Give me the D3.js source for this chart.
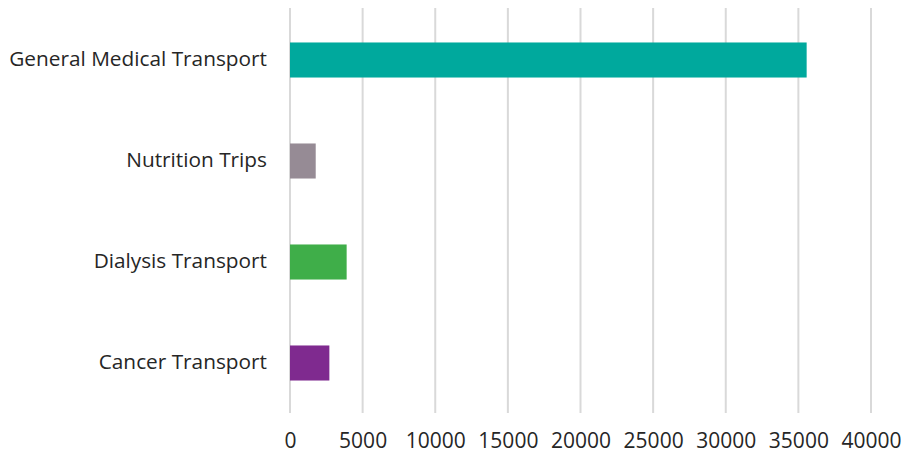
<html>
<head>
  <meta charset="utf-8">
  <script src="https://cdn.jsdelivr.net/npm/d3@7"></script>
  <style>
    body { margin: 0; background: #fff; }
    text { font-family: "Open Sans", sans-serif; fill: #262626; }
  </style>
</head>
<body>
<script>
  // data
  const categories = ["General Medical Transport", "Nutrition Trips", "Dialysis Transport", "Cancer Transport"];
  const values = [35570, 1770, 3900, 2710];
  const colors = ["#00a99d", "#968b95", "#3fae49", "#7f2a8f"];
  const ticks = [0, 5000, 10000, 15000, 20000, 25000, 30000, 35000, 40000];

  const w = 901, h = 455;
  const plotLeft = 290, plotRight = 871, plotTop = 9.5, plotBottom = 413.5;

  const svg = d3.select("body").append("svg")
    .attr("width", w).attr("height", h);

  const x = d3.scaleLinear().domain([0, 40000]).range([plotLeft, plotRight]);
  const y = d3.scaleBand().domain(categories).range([plotTop, plotBottom]).paddingInner(0.653).paddingOuter(0.3265);

  // gridlines
  svg.append("g").selectAll("line")
    .data(ticks).enter().append("line")
    .attr("x1", d => x(d)).attr("x2", d => x(d))
    .attr("y1", 8).attr("y2", 413)
    .attr("stroke", "#d9d9d9").attr("stroke-width", 2);

  // bars
  svg.append("g").selectAll("rect")
    .data(values).enter().append("rect")
    .attr("x", x(0))
    .attr("y", (d, i) => y(categories[i]))
    .attr("width", d => x(d) - x(0))
    .attr("height", y.bandwidth())
    .attr("fill", (d, i) => colors[i]);

  // x axis labels
  const xAxis = d3.axisBottom(x).tickValues(ticks).tickSize(0).tickPadding(0).tickFormat(d3.format("d"));
  const gx = svg.append("g").attr("transform", "translate(0,433)").call(xAxis);
  gx.select(".domain").remove();
  gx.selectAll("text").attr("font-size", 21).attr("font-family", "Open Sans, sans-serif").attr("fill", "#262626");

  // y axis labels
  const yAxis = d3.axisLeft(y).tickSize(0).tickPadding(0);
  const gy = svg.append("g").attr("transform", "translate(267,0)").call(yAxis);
  gy.select(".domain").remove();
  gy.selectAll("text").attr("font-size", 20.8).attr("dy", "0.28em")
    .attr("font-family", "Open Sans, sans-serif").attr("fill", "#262626");
</script>
</body>
</html>
